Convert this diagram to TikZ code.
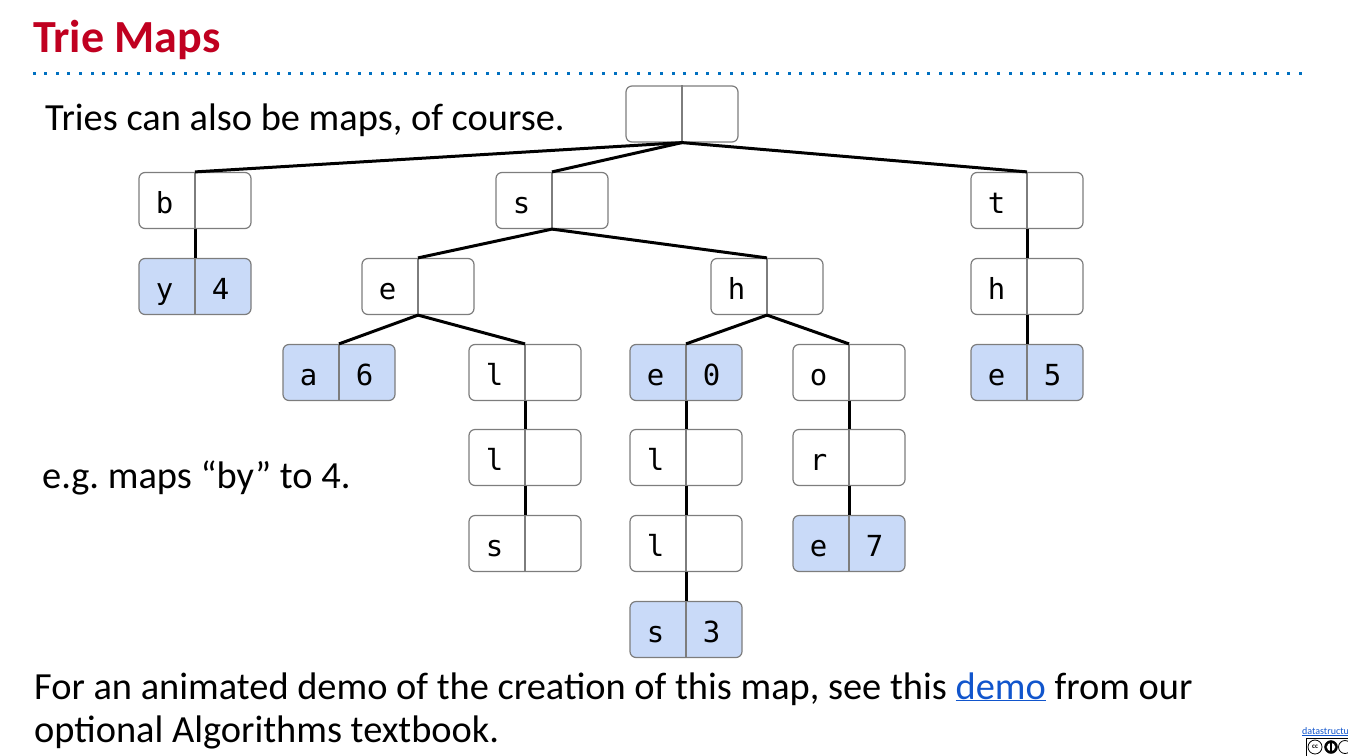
\documentclass[tikz,border=0pt]{standalone}
\usepackage{fontspec}
\setmainfont{Carlito}
\newfontfamily\monofont{DejaVu Sans Mono}
\definecolor{titlered}{RGB}{192,0,32}
\definecolor{dotblue}{RGB}{0,112,192}
\definecolor{linkblue}{RGB}{17,85,204}
\definecolor{cellfill}{RGB}{201,218,248}
\definecolor{cellborder}{RGB}{125,125,125}
\tikzset{
  cellbox/.style={draw=cellborder, line width=1.2pt, rounded corners=6pt, minimum width=112pt, minimum height=56pt, inner sep=0pt, fill=white},
  hit/.style={fill=cellfill},
  edge/.style={line width=3pt, black},
  celltext/.style={font=\monofont\fontsize{29}{29}\selectfont, inner sep=0pt, anchor=base},
  body/.style={font=\fontsize{38.4}{38.4}\selectfont, inner sep=0pt, anchor=base west},
}
% \trienode[extra style]{name}{x}{y}{left}{right}
\newcommand\trienode[6][]{%
  \node[cellbox,#1] (#2) at (#3,#4) {};
  \draw[cellborder, line width=1.2pt] (#2.north) -- (#2.south);
  \node[celltext] (#2-l) at ([xshift=-30.5pt,yshift=-12.5pt]#2.center) {#5};
  \node[celltext] (#2-r) at ([xshift=25.5pt,yshift=-12.5pt]#2.center) {#6};
}
\begin{document}
\frenchspacing
\begin{tikzpicture}[x=1pt,y=-1pt]
\useasboundingbox (0,0) rectangle (1348,755);
\clip (0,0) rectangle (1348,755);
% title
\node[anchor=base west, inner sep=0pt, text=titlered, font=\bfseries\fontsize{46}{46}\selectfont] (title) at (33,52) {Trie Maps};
\foreach \i in {0,...,109} {
  \fill[dotblue] ({34+\i*11.62-1.5},{73-1.5}) rectangle ++(3,3);
}
\node[body] (intro) at (45,130) {Tries can also be maps, of course.};
\node[body] (eg) at (42,488) {e.g. maps “by” to 4.};
\node[body] (foot1) at (34,699) {For an animated demo of the creation of this map, see this \textcolor{linkblue}{\underline{demo}} from our};
\node[body] (foot2) at (34,742) {optional Algorithms textbook.};
\node[anchor=base west, inner sep=0pt, text=linkblue, font=\fontsize{10}{10}\selectfont] (site) at (1302,734) {\underline{datastructur.es}};
% cc badge (cut off)
\draw[black, fill=white, line width=0.8pt] (1306,738) rectangle (1360,760);
\draw[fill=white, line width=0.8pt] (1315,747) circle (7);
\node[font=\bfseries\fontsize{7}{7}\selectfont, inner sep=0pt] (cc) at (1315,747) {cc};
\draw[fill=black] (1331,747) circle (6.5);
\draw[fill=white] (1331,747) circle (4.5);
\fill[black] (1330,742) rectangle (1332,752);
\draw[fill=white, line width=0.8pt] (1345,747) circle (6.5);

% nodes
\trienode{root}{682}{114}{}{}
\trienode{b}{195}{200.5}{b}{}
\trienode{s}{552}{200.5}{s}{}
\trienode{t}{1027}{200.5}{t}{}
\trienode[hit]{by}{195}{286.5}{y}{4}
\trienode{se}{418}{286.5}{e}{}
\trienode{sh}{767}{286.5}{h}{}
\trienode{th}{1027}{286.5}{h}{}
\trienode[hit]{sea}{339}{372.5}{a}{6}
\trienode{sel}{525}{372.5}{l}{}
\trienode[hit]{she}{686}{372.5}{e}{0}
\trienode{sho}{849}{372.5}{o}{}
\trienode[hit]{the}{1027}{372.5}{e}{5}
\trienode{sell}{525}{457.5}{l}{}
\trienode{shel}{686}{457.5}{l}{}
\trienode{shor}{849}{457.5}{r}{}
\trienode{sells}{525}{543.5}{s}{}
\trienode{shell}{686}{543.5}{l}{}
\trienode[hit]{shore}{849}{543.5}{e}{7}
\trienode[hit]{shells}{686}{629.5}{s}{3}

% edges
\foreach \p/\c in {root/b, root/s, root/t, b/by, s/se, s/sh, t/th,
  se/sea, se/sel, sh/she, sh/sho, th/the, sel/sell, she/shel, sho/shor,
  sell/sells, shel/shell, shor/shore, shell/shells} {
  \draw[edge] (\p.south) -- (\c.north);
}
\end{tikzpicture}
\end{document}
